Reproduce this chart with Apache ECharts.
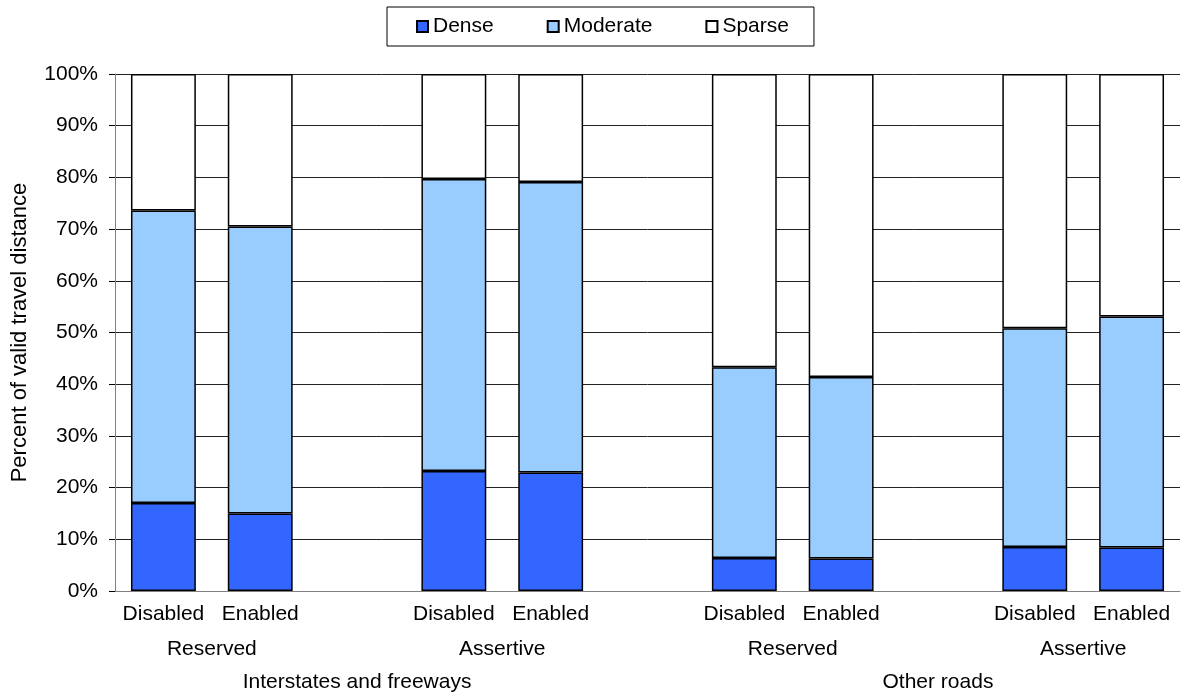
<!DOCTYPE html>
<html>
<head>
<meta charset="utf-8">
<script src="https://cdn.jsdelivr.net/npm/echarts@6/dist/echarts.min.js"></script>
<style>
html,body{margin:0;padding:0;background:#fff;}
#chart{width:1183px;height:694px;}
</style>
</head>
<body>
<div id="chart"></div>
<script>
// Categories (empty strings are the gaps between groups)
const categories = ['Disabled','Enabled','','Disabled','Enabled','','Disabled','Enabled','','Disabled','Enabled'];
const groupLabels = ['Reserved','Assertive','Reserved','Assertive'];
const roadLabels = ['Interstates and freeways','Other roads'];
const seriesNames = ['Dense','Moderate','Sparse'];
// Percent of valid travel distance
const dense    = [17.0, 15.0, null, 23.2, 22.9, null, 6.4, 6.3, null, 8.5, 8.4];
const moderate = [56.6, 55.5, null, 56.5, 56.2, null, 36.9, 35.1, null, 42.3, 44.7];
const sparse   = [26.4, 29.5, null, 20.3, 20.9, null, 56.7, 58.6, null, 49.2, 46.9];
const yTicks = [0,10,20,30,40,50,60,70,80,90,100];

const FONT = 'Liberation Sans, Arial, sans-serif';
const FS = 21;
const colors = ['#3366FF','#99CCFF','#FFFFFF'];
const values = [dense, moderate, sparse];

// label positions on a value axis spanning category boundaries [0, n]
const groupPos = {};
groupLabels.forEach((g,i)=>{ groupPos[(3*i+1).toFixed(1)] = g; });
const roadPos = {};
roadLabels.forEach((r,i)=>{ roadPos[(6*i+2.5).toFixed(1)] = r; });

const chart = echarts.init(document.getElementById('chart'), null, {renderer:'canvas'});
const n = categories.length;
const hiddenAxis = (map, margin) => ({
  type:'value', position:'bottom', offset:0, min:0, max:n, interval:0.5,
  axisLine:{show:false}, axisTick:{show:false}, splitLine:{show:false},
  axisLabel:{show:true, margin:margin, color:'#000', fontSize:FS, fontFamily:FONT,
    hideOverlap:false, showMinLabel:true, showMaxLabel:true,
    formatter:(v)=> map[v.toFixed(1)] || ''}
});

chart.setOption({
  animation:false,
  backgroundColor:'#fff',
  textStyle:{fontFamily:FONT},
  legend:{
    data:seriesNames, left:387, top:7,
    padding:[9,25,9,29], itemGap:53, itemWidth:11, itemHeight:11,
    borderColor:'#000', borderWidth:1, icon:'rect',
    textStyle:{color:'#000', fontSize:FS, fontFamily:FONT}
  },
  grid:{left:115, right:0, top:74, bottom:103, containLabel:false},
  xAxis:[
    {type:'category', data:categories, position:'bottom',
     axisLine:{show:true, lineStyle:{color:'#808080', width:1}},
     axisTick:{show:false},
     axisLabel:{interval:0, margin:13, color:'#000', fontSize:FS, fontFamily:FONT}},
    hiddenAxis(groupPos, 48),
    hiddenAxis(roadPos, 81)
  ],
  yAxis:{
    type:'value', min:0, max:100, interval:10,
    name:'Percent of valid travel distance', nameLocation:'middle', nameGap:84,
    nameTextStyle:{color:'#000', fontSize:22, fontFamily:FONT},
    axisLine:{show:true, lineStyle:{color:'#808080', width:1}},
    axisTick:{show:true, inside:false, length:6, lineStyle:{color:'#000'}},
    axisLabel:{margin:17, color:'#000', fontSize:FS, fontFamily:FONT, formatter:'{value}%'},
    splitLine:{show:true, lineStyle:{color:'#222', width:1}}
  },
  series: seriesNames.map((name,i)=>({
    name:name, type:'bar', stack:'total', xAxisIndex:0, barWidth:'67%',
    data:values[i],
    itemStyle:{color:colors[i], borderColor:'#000', borderWidth:1.5},
    emphasis:{disabled:true}
  }))
});
</script>
</body>
</html>
